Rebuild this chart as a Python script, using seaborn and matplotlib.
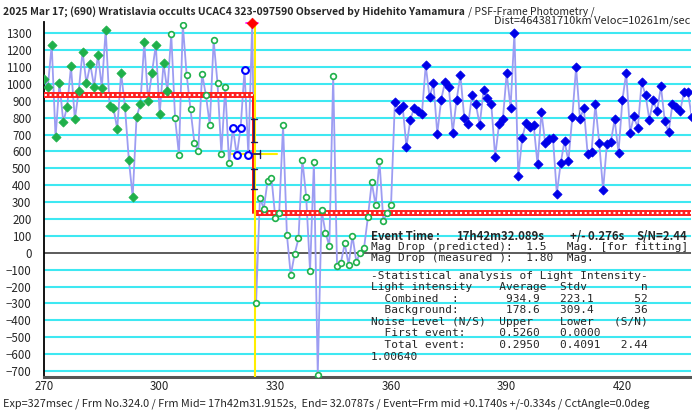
import numpy as np
import pandas as pd
import seaborn as sns
import matplotlib.pyplot as plt

# light curve values, one per frame (frames 270 ... 438)
bg_before = [1031, 984, 1231, 683, 1008, 774, 865, 1104, 790, 958, 1191, 1004, 1116, 984,
             1174, 978, 1322, 871, 859, 733, 1067, 863, 551, 331, 802, 883, 1247, 901,
             1067, 1231, 820, 1122, 958]
pre_open = [1294, 796, 581, 1351, 1053, 849, 652, 602, 1061, 932, 757, 1258, 1004, 587, 980, 529]
blue_open = [741, 577, 741, 1083, 577]
event_pt = [1363]
post_open = [-300, 325, 261, 428, 444, 204, 238, 754, 105, -133, -8, 85, 552, 331, -109, 537,
             -723, 251, 119, 40, 1050, -77, -59, 55, -71, 101, -53, 0, 28, 210, 418, 281,
             546, 189, 238, 280]
after = [895, 843, 871, 626, 788, 859, 841, 820, 1110, 922, 1004, 705, 905, 1013, 980, 711,
         905, 1053, 796, 760, 932, 881, 757, 962, 917, 883, 569, 760, 790, 1065, 859, 1304,
         454, 677, 770, 747, 755, 523, 832, 648, 676, 680, 350, 530, 662, 542, 802, 1100,
         792, 857, 583, 599, 879, 650, 371, 647, 656, 790, 593, 903, 1067, 712, 808, 739,
         1010, 935, 788, 905, 838, 986, 780, 715, 883, 861, 842, 952, 952, 802]
first_frame = 270

# fit / event values
level_upper = 934.9
level_lower = 235.0
event_frame = 324.5
err_frames = 1.4
yellow_half = 5.8
err_bar_a = (659, 791)
err_bar_b = (377, 495)

title_bold = "2025 Mar 17; (690) Wratislavia occults UCAC4 323-097590 Observed by Hidehito Yamamura"
title_rest = "/ PSF-Frame Photometry /"
title_dist = "Dist=464381710km Veloc=10261m/sec"
footer = ("Exp=327msec / Frm No.324.0 / Frm Mid= 17h42m31.9152s,  End= 32.0787s / "
          "Event=Frm mid +0.1740s +/-0.334s / CctAngle=0.0deg")

groups = [("bg", bg_before), ("open", pre_open), ("blue", blue_open), ("event", event_pt),
          ("open", post_open), ("after", after)]
rows = []
f = first_frame
for g, vals in groups:
    for v in vals:
        rows.append((f, v, g))
        f += 1
df = pd.DataFrame(rows, columns=["frame", "flux", "grp"])

sns.set_style("white")
SANS = ["Noto Sans CJK JP", "DejaVu Sans"]
MONO = ["DejaVu Sans Mono"]
plt.rcParams["font.family"] = SANS

W, H = 692, 417
fig = plt.figure(figsize=(W / 100, H / 100), dpi=100)
ax = fig.add_axes([44 / W, 40 / H, (691 - 44) / W, (377 - 22) / H])
ax.set_xlim(270, 437.8)
ax.set_ylim(-736, 1367)

# grid
for yv in range(-700, 1301, 100):
    if yv == 0:
        ax.axhline(0, color="#404040", lw=1.2, zorder=1)
    else:
        ax.axhline(yv, color="#3ee8f2", lw=1.5, zorder=0)

# light curve line
sns.lineplot(data=df, x="frame", y="flux", sort=False, estimator=None,
             color="#9d9df2", lw=1.3, ax=ax, zorder=2)

# fitted step
ev_r = event_frame - 0.35
for xs, ys in [([269, ev_r], [level_upper, level_upper]),
               ([ev_r + 0.4, 440], [level_lower, level_lower])]:
    ax.plot(xs, ys, color="#ff2020", lw=4.3, zorder=3, solid_capstyle="butt")
    ax.plot(xs, ys, color="white", lw=1.5, ls=(0, (1, 1.3)), zorder=3.1)
ax.plot([ev_r, ev_r], [level_upper, level_lower], color="#ff1010", lw=1.4, zorder=3)

# event marker lines
ax.axvline(event_frame + 0.1, color="#ffee00", lw=1.5, zorder=3.5)
mid = (level_upper + level_lower) / 2
ax.plot([event_frame - yellow_half, event_frame + yellow_half], [mid, mid],
        color="#ffee00", lw=1.5, zorder=3.5)
navy = "#202060"
for lo, hi in [err_bar_a, err_bar_b]:
    ax.plot([event_frame, event_frame], [lo, hi], color=navy, lw=1.3, zorder=4)
    for yy in (lo, hi):
        ax.plot([event_frame - 0.7, event_frame + 0.7], [yy, yy], color=navy, lw=1, zorder=4)
ax.plot([event_frame - err_frames, event_frame + err_frames], [mid, mid], color=navy, lw=1.2, zorder=4)
for xx in (event_frame - err_frames, event_frame + err_frames):
    ax.plot([xx, xx], [mid - 25, mid + 25], color=navy, lw=1, zorder=4)

# markers
green = "#1fb04a"
sns.scatterplot(data=df[df.grp == "bg"], x="frame", y="flux", marker="D", s=22,
                color=green, edgecolor=green, linewidth=0.5, ax=ax, zorder=5)
sns.scatterplot(data=df[df.grp == "open"], x="frame", y="flux", marker="o", s=17,
                color="white", edgecolor=green, linewidth=1.2, ax=ax, zorder=5)
sns.scatterplot(data=df[df.grp == "blue"], x="frame", y="flux", marker="o", s=24,
                color="white", edgecolor="#0000ff", linewidth=1.5, ax=ax, zorder=5)
sns.scatterplot(data=df[df.grp == "after"], x="frame", y="flux", marker="D", s=22,
                color="#0000e8", edgecolor="#0000e8", linewidth=0.5, ax=ax, zorder=5)
ev_row = df[df.grp == "event"]
ax.plot([ev_row.frame.iloc[0] - 1.5, ev_row.frame.iloc[0] + 1.5], [ev_row.flux.iloc[0]] * 2,
        color="#ff00ff", lw=1.2, clip_on=False, zorder=6)
sns.scatterplot(data=ev_row, x="frame", y="flux", marker="D", s=30, color="red",
                edgecolor="red", ax=ax, zorder=7, clip_on=False)

# axes styling
ax.set_xlabel("")
ax.set_ylabel("")
ax.set_yticks(range(-700, 1301, 100))
ax.set_xticks(range(270, 431, 30))
ax.set_xticks([v for v in range(280, 438, 10) if (v - 270) % 30], minor=True)
ax.tick_params(axis="y", length=0, pad=9, labelsize=8.3)
ax.tick_params(axis="x", which="both", direction="in", length=4, width=1, color="#333333",
               pad=2, labelsize=8.3)
for s in ("top", "right"):
    ax.spines[s].set_visible(False)
ax.spines["left"].set_color("black")
ax.spines["left"].set_linewidth(1.3)
ax.spines["bottom"].set_color("#555555")
ax.spines["bottom"].set_linewidth(2.2)


def put(x, y, s, **kw):
    return fig.text(x / W, 1 - y / H, s, va="center", **kw)


def fit(t, width, cap=99):
    r = fig.canvas.get_renderer()
    w = t.get_window_extent(r).width
    t.set_fontsize(min(cap, t.get_fontsize() * width / w))
    return t


tb = fit(put(3, 12, title_bold, weight="bold", family=SANS, size=8), 461)
put(468, 12, title_rest, family=SANS, size=tb.get_fontsize())
fit(put(690, 21, title_dist, ha="right", family=SANS, size=8), 196, cap=8.2)
fit(put(3, 404, footer, family=SANS, size=8), 648)

# result text box
ev_txt = dict(weight="bold", family=SANS, size=8.2)
put(370.7, 236.5, "Event Time :", **ev_txt)
put(456, 236.5, "17h42m32.089s", **ev_txt)
put(570, 236.5, "+/- 0.276s", **ev_txt)
fit(put(636, 236.5, "S/N=2.44", **ev_txt), 54, cap=8.2)

box = [
    (247.5, "Mag Drop (predicted):  1.5   Mag. [for fitting]"),
    (258.3, "Mag Drop (measured ):  1.80  Mag."),
    (275.7, "-Statistical analysis of Light Intensity-"),
    (287.0, f"{'Light intensity':<19}{'Average':<9}{'Stdv':<12}n"),
    (299.0, f"{'  Combined  :':<20}{'934.9':<8}{'223.1':<11}52"),
    (310.3, f"{'  Background:':<20}{'178.6':<8}{'309.4':<11}36"),
    (322.0, f"{'Noise Level (N/S)':<19}{'Upper':<9}{'Lower':<8}(S/N)"),
    (332.7, f"{'  First event:':<19}{'0.5260':<9}0.0000"),
    (345.0, f"{'  Total event:':<19}{'0.2950':<9}{'0.4091':<9}2.44"),
    (356.7, "1.00640"),
]
for yy, s in box:
    put(370.7, yy, s, family=MONO, size=8)

plt.savefig("out.png", dpi=100)
